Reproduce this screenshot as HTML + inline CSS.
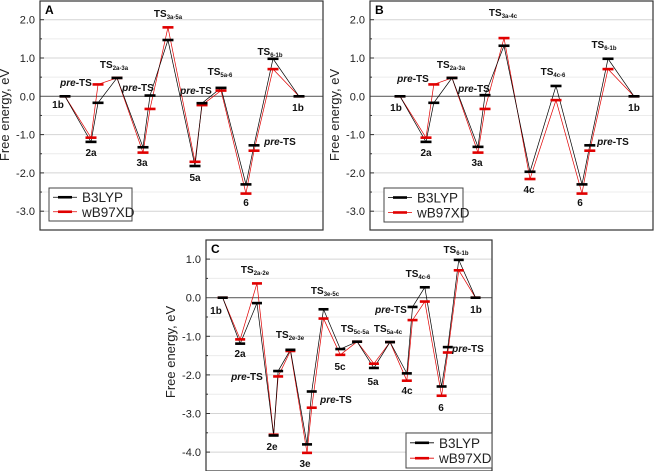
<!DOCTYPE html>
<html><head><meta charset="utf-8">
<style>
html,body{margin:0;padding:0;background:#fff;}
svg{display:block;font-family:"Liberation Sans",sans-serif;}
</style></head>
<body>
<svg id="fig" width="660" height="471" viewBox="0 0 660 471" xmlns="http://www.w3.org/2000/svg"></svg>
<script>
// ---- Data ----
const stepsA = [0,1,1.27,2,3,3.27,3.96,5,5.27,6,6.96,7.27,8,9];
const b3lypA = [0,-1.19,-0.17,0.48,-1.33,0.02,1.47,-1.82,-0.18,0.22,-2.30,-1.28,0.98,0];
const wb97A  = [0,-1.08,0.31,0.48,-1.47,-0.33,1.80,-1.71,-0.23,0.15,-2.54,-1.42,0.71,0];

const stepsB = [0,1,1.3,2,3,3.27,4,5,6,7,7.3,8,9];
const b3lypB = [0,-1.19,-0.17,0.48,-1.32,0.03,1.32,-1.97,0.27,-2.30,-1.28,0.98,0];
const wb97B  = [0,-1.08,0.31,0.48,-1.47,-0.33,1.52,-2.16,-0.10,-2.54,-1.42,0.71,0];

const stepsC = [0,1.04,2.04,3.03,3.3,4.03,5.02,5.3,6,7,8,9,9.96,10.96,11.3,12.03,13.03,13.4,14.05,15.05];
const b3lypC = [0,-1.19,-0.14,-3.57,-1.90,-1.35,-3.80,-2.43,-0.30,-1.33,-1.14,-1.82,-1.15,-1.96,-0.24,0.27,-2.30,-1.28,0.98,0];
const wb97C  = [0,-1.08,0.37,-3.55,-2.04,-1.38,-4.02,-2.85,-0.54,-1.48,-1.14,-1.71,-1.15,-2.15,-0.58,-0.10,-2.54,-1.42,0.71,0];

const ticksAB = ["2.0","1.0","0.0","-1.0","-2.0","-3.0"];
const ticksC  = ["1.0","0.0","-1.0","-2.0","-3.0","-4.0"];

const NS="http://www.w3.org/2000/svg";
const svg=document.getElementById('fig');
function mk(tag,attrs,parent){const e=document.createElementNS(NS,tag);for(const k in attrs)e.setAttribute(k,attrs[k]);(parent||svg).appendChild(e);return e;}

function panel(cfg){
  const g=mk('g',{});
  
  
  const yS=v=>cfg.y0-v*cfg.yu;
  const xS=s=>cfg.x0+s*cfg.xu;
  for(let v=Math.ceil(cfg.vmin*2)/2; v<=cfg.vmax; v+=0.5){
    if(Math.abs(v)<1e-6) continue;
    const isInt=Math.abs(v-Math.round(v))<1e-6;
    const l=mk('line',{x1:cfg.bx1,x2:cfg.bx2,y1:yS(v),y2:yS(v),stroke:isInt?'#d4d4d4':'#ececec','stroke-width':1},g);
    
    
    mk('line',{x1:cfg.bx1,x2:cfg.bx1+(isInt?4:2),y1:yS(v),y2:yS(v),stroke:'#333','stroke-width':1},g);
  }
  const z=mk('line',{x1:cfg.bx1,x2:cfg.bx2,y1:yS(0),y2:yS(0),stroke:'#666','stroke-width':1.2},g);
  
  
  cfg.ticks.forEach(s=>{
    const t=mk('text',{x:cfg.bx1-5,y:yS(parseFloat(s))+4,'font-size':11,'text-anchor':'end',fill:'#222'},g);
    t.textContent=s;
    
    
  });
  const at=mk('text',{x:0,y:0,'font-size':13,'text-anchor':'middle',fill:'#222',transform:`translate(${cfg.titleX},${cfg.titleY}) rotate(-90)`},g);
  at.textContent='Free energy, eV';
  
  
  const series=[[cfg.w,'#e00000','wb97xd'],[cfg.b,'#000','b3lyp']];
  series.forEach(([vals,col,nm])=>{
    let d='';
    for(let i=0;i<vals.length;i++){
      d+=(i?'L':'M')+xS(cfg.steps[i])+','+yS(vals[i]);
    }
    const p=mk('path',{d:d,stroke:col,'stroke-width':0.7,fill:'none'},g);
    
    
  });
  series.forEach(([vals,col,nm])=>{
    vals.forEach((v,i)=>{
      const r=mk('rect',{x:xS(cfg.steps[i])-cfg.hw,y:yS(v)-1.3,width:cfg.hw*2,height:2.6,fill:col},g);
      
      
    });
  });
  const f=mk('rect',{x:cfg.bx1,y:cfg.by1,width:cfg.bx2-cfg.bx1,height:cfg.by2-cfg.by1,fill:'none',stroke:'#333','stroke-width':1.2},g);
  
  
  const pl=mk('text',{x:cfg.bx1+5,y:cfg.by1+13,'font-size':12,'font-weight':'bold'},g);
  pl.textContent=cfg.letter;
  
  
  cfg.labels.forEach(([txt,sub,x,y,it])=>{
    const t=mk('text',{x:x,y:y,'font-size':10,'font-weight':'bold','text-anchor':'middle',fill:'#111'},g);
    
    
    if(it){const a=mk('tspan',{'font-style':'italic'},t);a.textContent='pre';const b=mk('tspan',{},t);b.textContent='-TS';}
    else{const a=mk('tspan',{},t);a.textContent=txt;if(sub){const b=mk('tspan',{'font-size':6,dy:2},t);b.textContent=sub;}}
  });
  const L=cfg.leg;
  const lg=mk('g',{},g);
  
  
  mk('rect',{x:L[0],y:L[1],width:L[2],height:L[3],fill:'#fff',stroke:'#444','stroke-width':1},lg);
  [['B3LYP','#000',L[3]*0.28],['wB97XD','#e00000',L[3]*0.72]].forEach(([n,c,dy])=>{
    const yy=L[1]+dy;
    mk('line',{x1:L[0]+4,x2:L[0]+28,y1:yy,y2:yy,stroke:c,'stroke-width':0.8},lg);
    mk('rect',{x:L[0]+9,y:yy-1.3,width:14,height:2.6,fill:c},lg);
    const t=mk('text',{x:L[0]+33,y:yy+5,'font-size':13.5,fill:'#222'},lg);
    t.textContent=n;
    
    
  });
}

panel({name:'panel-a',letter:'A',steps:stepsA,b:b3lypA,w:wb97A,ticks:ticksAB,
  x0:65,xu:26,y0:96.3,yu:38.3,hw:5.5,bx1:40,bx2:323,by1:1,by2:230,vmin:-3.4,vmax:2.45,
  titleX:9,titleY:115,leg:[49,188,83,33],
  labels:[['1b','',58,108],['2a','',91,156],['','',76,86,1],['TS','2a-3a',114,68],['3a','',142,166],['','',138,91,1],
    ['TS','3a-5a',168,17],['5a','',195,181],['','',196,94,1],['TS','5a-6',220,75],['6','',246,206],['','',280,145,1],['TS','6-1b',270,55],['1b','',298,111]]});

panel({name:'panel-b',letter:'B',steps:stepsB,b:b3lypB,w:wb97B,ticks:ticksAB,
  x0:400,xu:26,y0:96.3,yu:38.3,hw:5.5,bx1:370,bx2:653,by1:1,by2:230,vmin:-3.4,vmax:2.45,
  titleX:339,titleY:115,leg:[384,188,79,34],
  labels:[['1b','',396,111],['2a','',426,156],['','',413,82,1],['TS','2a-3a',451,68],['3a','',477,166],['','',474,92,1],
    ['TS','3a-4c',503,16],['4c','',529,193],['TS','4c-6',553,75],['6','',580,206],['','',613,145,1],['TS','6-1b',604,48],['1b','',634,111]]});

panel({name:'panel-c',letter:'C',steps:stepsC,b:b3lypC,w:wb97C,ticks:ticksC,
  x0:222.7,xu:16.8,y0:297.7,yu:38.6,hw:5,bx1:206,bx2:492,by1:240,by2:471,vmin:-4.45,vmax:1.45,
  titleX:175,titleY:352,leg:[406,433,86,35],
  labels:[['1b','',216,314],['2a','',240,357],['TS','2a-2e',255,273],['','',247,380,1],['2e','',272,450],['TS','2e-3e',290,338],
    ['3e','',305,467],['','',336,403,1],['TS','3e-5c',325,294],['5c','',340,370],['TS','5c-5a',355,332],['5a','',373,385],
    ['TS','5a-4c',388,332],['4c','',407,394],['','',391,313,1],['TS','4c-6',418,277],['6','',441,411],['','',468,352,1],
    ['TS','6-1b',456,253],['1b','',476,313]]});
</script>
</body></html>
